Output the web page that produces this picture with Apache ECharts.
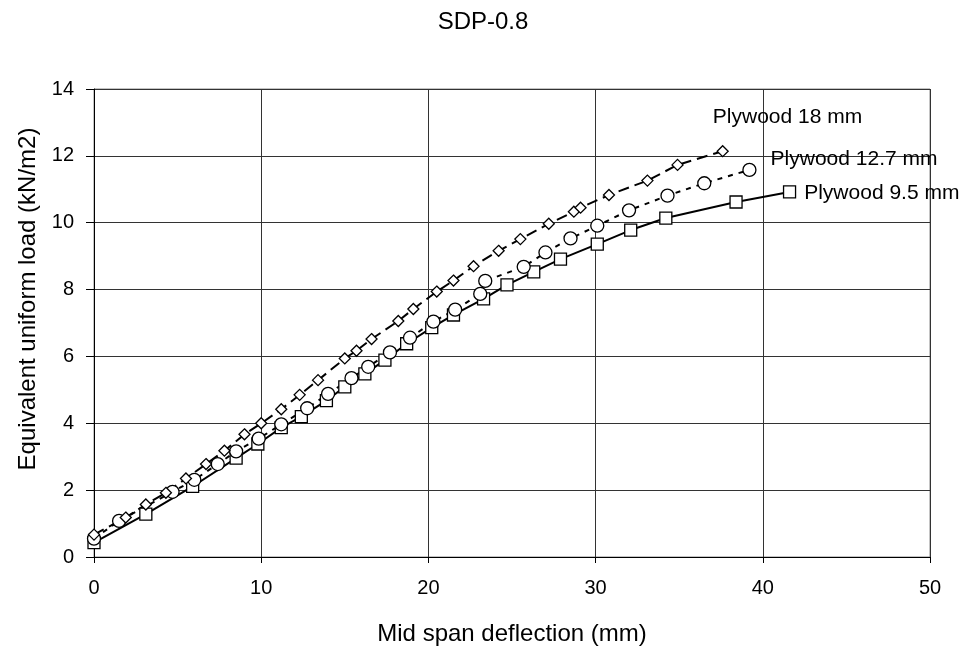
<!DOCTYPE html>
<html>
<head>
<meta charset="utf-8">
<script src="https://cdn.jsdelivr.net/npm/echarts@6/dist/echarts.min.js"></script>
<style>html,body{margin:0;padding:0;background:#fff;}#c{width:966px;height:651px;}</style>
</head>
<body>
<div id="c"></div>
<script>
const titleText = 'SDP-0.8';
const xName = 'Mid span deflection (mm)';
const yName = 'Equivalent uniform load (kN/m2)';
const seriesNames = ['Plywood 9.5 mm', 'Plywood 12.7 mm', 'Plywood 18 mm'];

const ply95 = [[0,0.43],[3.1,1.28],[5.9,2.11],[8.5,2.96],[9.8,3.38],[11.2,3.87],[12.4,4.2],[13.9,4.68],[15.0,5.09],[16.2,5.48],[17.4,5.89],[18.7,6.38],[20.2,6.86],[21.5,7.24],[23.3,7.72],[24.7,8.14],[26.3,8.53],[27.9,8.91],[30.1,9.36],[32.1,9.78],[34.2,10.14],[38.4,10.62],[41.6,10.92]];
const ply127 = [[0,0.55],[1.5,1.08],[4.7,1.95],[6.0,2.31],[7.4,2.78],[8.5,3.16],[9.85,3.54],[11.2,3.97],[12.75,4.45],[14.0,4.88],[15.4,5.35],[16.4,5.69],[17.7,6.12],[18.9,6.56],[20.3,7.04],[21.6,7.4],[23.1,7.87],[23.4,8.26],[25.7,8.68],[27.0,9.11],[28.5,9.53],[30.1,9.91],[32.0,10.37],[34.3,10.81],[36.5,11.18],[39.2,11.58]];
const ply18 = [[0,0.67],[1.9,1.18],[3.1,1.57],[4.3,1.92],[5.5,2.35],[6.7,2.78],[7.8,3.18],[9.0,3.67],[10.0,4.0],[11.2,4.42],[12.3,4.85],[13.4,5.29],[15.0,5.94],[15.7,6.17],[16.6,6.52],[18.2,7.06],[19.1,7.42],[20.5,7.94],[21.5,8.27],[22.7,8.7],[24.2,9.16],[25.5,9.51],[27.2,9.97],[28.7,10.33],[29.1,10.45],[30.8,10.83],[33.1,11.26],[34.9,11.73],[37.6,12.14]];

const FONT = 'Liberation Sans, Arial, sans-serif';
const TXT = '#000';

function withEndLabel(arr, name, offset) {
  return arr.map((p, i) => {
    if (i !== arr.length - 1) return p;
    return { value: p, label: { show: true, position: 'right', offset: offset, formatter: name,
      color: TXT, fontFamily: FONT, fontSize: 21 } };
  });
}

function mkSeries(name, data, symbol, size, dash, offset) {
  return {
    name: name, type: 'line', data: withEndLabel(data, name, offset),
    symbol: symbol, symbolSize: size, showAllSymbol: true,
    lineStyle: { color: '#000', width: 2, type: dash },
    itemStyle: { color: '#fff', borderColor: '#000', borderWidth: 1.3 },
    label: { show: false }, emphasis: { disabled: true }, animation: false, z: 3
  };
}

const chart = echarts.init(document.getElementById('c'), null, { renderer: 'canvas' });
chart.setOption({
  backgroundColor: '#fff',
  animation: false,
  title: { text: titleText, left: 'center', top: 5,
    textStyle: { fontFamily: FONT, fontSize: 24, fontWeight: 'normal', color: TXT } },
  grid: { left: 94, right: 36, top: 89, bottom: 94, containLabel: false,
    show: true, borderColor: '#888', borderWidth: 1 },
  xAxis: {
    type: 'value', min: 0, max: 50, interval: 10,
    name: xName, nameLocation: 'middle', nameGap: 65,
    nameTextStyle: { fontFamily: FONT, fontSize: 24, color: TXT },
    axisLine: { show: true, onZero: false, lineStyle: { color: '#000', width: 1 } },
    axisTick: { show: true, length: 6, inside: false, lineStyle: { color: '#000' } },
    axisLabel: { margin: 21, fontFamily: FONT, fontSize: 20, color: TXT },
    splitLine: { show: true, lineStyle: { color: '#333', width: 1 } }
  },
  yAxis: {
    type: 'value', min: 0, max: 14, interval: 2,
    name: yName, nameLocation: 'middle', nameGap: 53, nameRotate: 90,
    nameTextStyle: { fontFamily: FONT, fontSize: 24, color: TXT, padding: [0, 0, 0, 48] },
    axisLine: { show: true, onZero: false, lineStyle: { color: '#000', width: 1 } },
    axisTick: { show: true, length: 8, inside: false, lineStyle: { color: '#000' } },
    axisLabel: { margin: 20, fontFamily: FONT, fontSize: 20, color: TXT },
    splitLine: { show: true, lineStyle: { color: '#333', width: 1 } }
  },
  series: [
    mkSeries(seriesNames[0], ply95, 'rect', 12, 'solid', [3, 1]),
    mkSeries(seriesNames[1], ply127, 'circle', 13, [5, 6], [9, -11]),
    mkSeries(seriesNames[2], ply18, 'diamond', 11, [11, 6], [-21, -34])
  ]
});
</script>
</body>
</html>
